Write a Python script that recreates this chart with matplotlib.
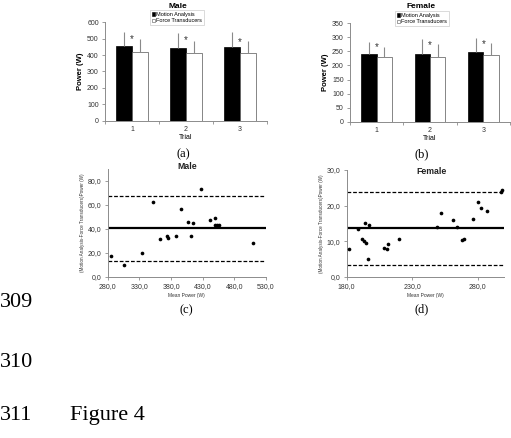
import matplotlib
matplotlib.use('Agg')
import matplotlib.pyplot as plt
from matplotlib.patches import Patch
from matplotlib.ticker import FuncFormatter
import numpy as np

W, H = 511, 438

# Bar chart data (mean power and SD, W)
trials = ['1', '2', '3']
male_ma = [456, 446, 450]
male_ma_sd = [84, 90, 92]
male_ft = [420, 410, 410]
male_ft_sd = [76, 77, 77]
male_star = [497, 492, 480]

female_ma = [242, 242, 249]
female_ma_sd = [43, 51, 48]
female_ft = [231, 230, 236]
female_ft_sd = [34, 46, 43]
female_star = [264, 272, 276]

# Bland-Altman data
male_mean = [285.2, 306.3, 333.7, 352.0, 362.6, 373.2, 374.8, 387.9, 395.3, 406.9,
             411.1, 414.3, 427.9, 441.1, 449.0, 449.0, 452.2, 456.3, 510.0]
male_diff = [17.2, 9.7, 19.5, 62.5, 31.4, 33.9, 32.0, 33.6, 56.1, 45.6,
             33.6, 44.5, 72.8, 47.5, 49.2, 43.1, 43.1, 43.1, 27.8]
male_bias = 40.2
male_upper = 67.2
male_lower = 13.2

fem_mean = [182.0, 188.9, 191.5, 193.2, 194.7, 194.2, 197.0, 196.5, 208.7, 210.8,
            211.8, 219.7, 249.2, 252.0, 260.9, 264.0, 268.3, 269.5, 276.2, 280.5,
            282.8, 287.4, 297.6, 298.8]
fem_diff = [7.9, 13.3, 10.5, 10.0, 9.6, 15.2, 14.6, 4.9, 8.2, 7.9,
            9.3, 10.6, 14.1, 17.8, 15.9, 14.1, 10.4, 10.6, 16.1, 20.9,
            19.4, 18.5, 23.9, 24.4]
fem_bias = 13.7
fem_upper = 23.8
fem_lower = 3.4

plt.rcParams['font.family'] = ['Liberation Sans', 'DejaVu Sans']
axcol = '#8c8c8c'
txtcol = '#333333'

fig = plt.figure(figsize=(W / 100, H / 100), dpi=100)


def px_axes(x0, y0, x1, y1):
    # pixel box (left, top, right, bottom) -> figure axes
    return fig.add_axes([x0 / W, 1 - y1 / H, (x1 - x0) / W, (y1 - y0) / H])


def fx(x):
    return x / W


def fy(y):
    return 1 - y / H


def style_axes(ax):
    for s in ['top', 'right']:
        ax.spines[s].set_visible(False)
    for s in ['left', 'bottom']:
        ax.spines[s].set_color(axcol)
        ax.spines[s].set_linewidth(0.7)
    ax.tick_params(colors=axcol, labelcolor=txtcol, labelsize=5, width=0.6, length=2.5, pad=2)


def bar_panel(box, ma, ma_sd, ft, ft_sd, stars, ymax, ystep, title, title_xy, leg_xy):
    ax = px_axes(*box)
    x = np.arange(1, len(trials) + 1)
    w = 0.29
    ax.bar(x - w / 2, ma, w, color='black', edgecolor='black', linewidth=0.5,
           yerr=[np.zeros(len(ma)), ma_sd], ecolor='#8a8a8a',
           error_kw=dict(elinewidth=0.8, capsize=0))
    ax.bar(x + w / 2, ft, w, color='white', edgecolor='#555555', linewidth=0.5,
           yerr=[np.zeros(len(ft)), ft_sd], ecolor='#8a8a8a',
           error_kw=dict(elinewidth=0.8, capsize=0))
    for xi, ys in zip(x, stars):
        ax.text(xi, ys, '*', ha='center', va='center', fontsize=7, color='#333333')
    ax.set_xlim(0.5, len(trials) + 0.5)
    ax.set_ylim(0, ymax)
    ax.set_yticks(np.arange(0, ymax + 1, ystep))
    ax.set_xticks(x)
    ax.set_xticklabels(trials)
    ax.set_xticks(np.arange(0.5, len(trials) + 1, 1), minor=True)
    style_axes(ax)
    ax.tick_params(axis='x', which='major', length=0, pad=4)
    ax.tick_params(axis='x', which='minor', length=2.5, width=0.6, colors=axcol)
    ax.set_ylabel('Power (W)', fontsize=5.5, fontweight='bold', labelpad=2)
    ax.set_xlabel('Trial', fontsize=5, labelpad=0.5)
    fig.text(fx(title_xy[0]), fy(title_xy[1]), title, ha='center', va='center',
             fontsize=6, fontweight='bold')
    handles = [Patch(facecolor='black', edgecolor='black', linewidth=0.4),
               Patch(facecolor='white', edgecolor='#555555', linewidth=0.4)]
    leg = ax.legend(handles, ['Motion Analysis', 'Force Transducers'],
                    loc='upper left', bbox_to_anchor=(fx(leg_xy[0]), fy(leg_xy[1])),
                    bbox_transform=fig.transFigure, fontsize=4, frameon=True,
                    fancybox=False, handlelength=0.6, handleheight=0.6,
                    handletextpad=0.2, borderpad=0.35, labelspacing=0.25,
                    borderaxespad=0)
    leg.get_frame().set_edgecolor('#c0c0c0')
    leg.get_frame().set_linewidth(0.5)
    return ax


def ba_panel(box, xm, yd, bias, lo, hi, xlim, xticks, ylim, yticks, title, title_xy):
    ax = px_axes(*box)
    ax.scatter(xm, yd, s=7, color='black', zorder=3, linewidths=0)
    ax.axhline(bias, color='black', linewidth=1.6)
    ax.axhline(hi, color='black', linewidth=0.9, linestyle=(0, (3, 1.5)))
    ax.axhline(lo, color='black', linewidth=0.9, linestyle=(0, (3, 1.5)))
    ax.set_xlim(*xlim)
    ax.set_ylim(*ylim)
    ax.set_xticks(xticks)
    ax.set_yticks(yticks)
    fmt = FuncFormatter(lambda v, p: ('%.1f' % v).replace('.', ','))
    ax.xaxis.set_major_formatter(fmt)
    ax.yaxis.set_major_formatter(fmt)
    style_axes(ax)
    ax.set_xlabel('Mean Power (W)', fontsize=3.5, labelpad=2, color=txtcol)
    ax.set_ylabel('(Motion Analysis-Force Transducers)Power (W)', fontsize=3.3,
                  labelpad=2, color=txtcol)
    fig.text(fx(title_xy[0]), fy(title_xy[1]), title, ha='center', va='center',
             fontsize=6.3, fontweight='bold', color='#222222')
    return ax


bar_panel((105, 22.3, 267, 120.5), male_ma, male_ma_sd, male_ft, male_ft_sd, male_star,
          600, 100, 'Male', (178, 6), (150, 10))
bar_panel((350, 23.3, 510, 121.7), female_ma, female_ma_sd, female_ft, female_ft_sd,
          female_star, 350, 50, 'Female', (421, 6.5), (395, 11))

ba_panel((107.7, 168.7, 266, 276.7), male_mean, male_diff, male_bias, male_lower, male_upper,
         (280, 530), [280, 330, 380, 430, 480, 530], (0, 90), [0, 20, 40, 60, 80],
         'Male', (186.7, 166.5))
ba_panel((346.7, 170, 504, 276.7), fem_mean, fem_diff, fem_bias, fem_lower, fem_upper,
         (180, 300), [180, 230, 280], (0, 30), [0, 10, 20, 30],
         'Female', (431, 171.5))

serif = ['Liberation Serif', 'DejaVu Serif']
for lab, xy in [('(a)', (183, 154)), ('(b)', (422, 154)), ('(c)', (186.7, 310)), ('(d)', (421.7, 309.3))]:
    fig.text(fx(xy[0]), fy(xy[1]), lab, ha='center', va='center', fontsize=9, family=serif)

fig.text(fx(0), fy(306.7), '309', ha='left', va='baseline', fontsize=16, family=serif)
fig.text(fx(0), fy(366.7), '310', ha='left', va='baseline', fontsize=16, family=serif)
fig.text(fx(0), fy(420), '311', ha='left', va='baseline', fontsize=16, family=serif)
fig.text(fx(70), fy(420), 'Figure 4', ha='left', va='baseline', fontsize=16, family=serif)

fig.savefig('out.png', dpi=100)
